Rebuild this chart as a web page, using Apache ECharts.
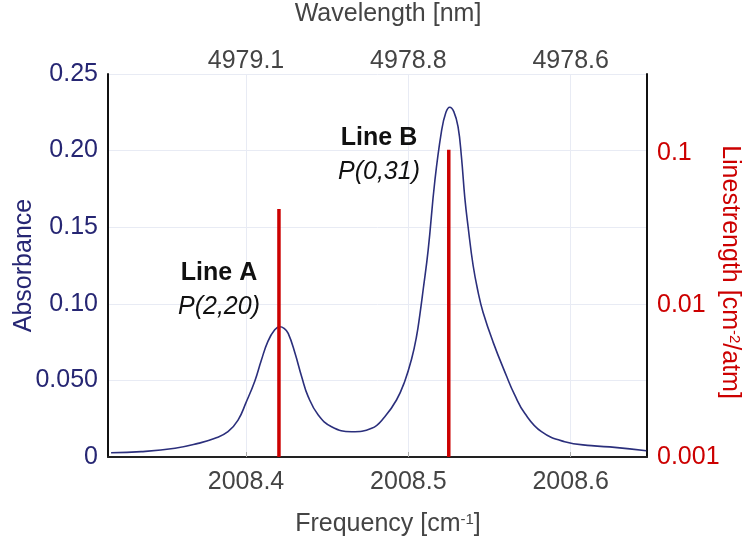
<!DOCTYPE html>
<html><head><meta charset="utf-8">
<script src="https://cdn.jsdelivr.net/npm/echarts@6/dist/echarts.min.js"></script>
<style>html,body{margin:0;padding:0;background:#fff}#c{width:743px;height:544px}</style>
</head><body><div id="c"></div>
<script>
// Absorbance spectrum (frequency cm^-1, absorbance)
const freq = [2008.3169,2008.3354,2008.3563,2008.3705,2008.3809,2008.3889,2008.3951,2008.4000,2008.4054,2008.4094,2008.4135,2008.4177,2008.4209,2008.4234,2008.4260,2008.4302,2008.4343,2008.4383,2008.4445,2008.4527,2008.4650,2008.4774,2008.4855,2008.4927,2008.4978,2008.5020,2008.5050,2008.5071,2008.5091,2008.5122,2008.5163,2008.5204,2008.5231,2008.5255,2008.5280,2008.5306,2008.5327,2008.5348,2008.5368,2008.5399,2008.5430,2008.5460,2008.5522,2008.5604,2008.5655,2008.5717,2008.5820,2008.5963,2008.6127,2008.6271,2008.6466];
const absorbance = [0.0028,0.0035,0.0057,0.0089,0.0122,0.0165,0.0241,0.0355,0.0495,0.0630,0.0755,0.0830,0.0850,0.0840,0.0807,0.0677,0.0524,0.0394,0.0274,0.0198,0.0165,0.0187,0.0263,0.0372,0.0495,0.0640,0.0785,0.0930,0.1090,0.1350,0.1800,0.2125,0.2248,0.2283,0.2254,0.2156,0.1960,0.1690,0.1503,0.1250,0.1075,0.0945,0.0750,0.0530,0.0405,0.0285,0.0165,0.0100,0.0074,0.0063,0.0041];
// Line positions and strengths
const lineNames = ['Line A','Line B'];
const lineAssign = ['P(2,20)','P(0,31)'];
const lineFreq = [2008.4203, 2008.5249];
const lineStrength = [0.0428, 0.105];
const strengthBase = 0.001;
const absTickLabels = ['0','0.050','0.10','0.15','0.20','0.25'];

const FONT = "'Liberation Sans', Arial, sans-serif";
const FS = 25;
const chart = echarts.init(document.getElementById('c'), null, {renderer:'canvas'});
const xMin = 2008.315, xMax = 2008.647;

const stickSeries = lineFreq.map((f,i)=>({
  type:'line', xAxisIndex:0, yAxisIndex:1, symbol:'none', z:5,
  lineStyle:{color:'#cc0000', width:3.5},
  data:[[f, strengthBase],[f, lineStrength[i]]],
  silent:true, animation:false
}));

const richText = {
  b:{fontSize:FS, fontWeight:'bold', fill:'#111', fontFamily:FONT, lineHeight:34, align:'center'},
  i:{fontSize:FS, fontStyle:'italic', fill:'#111', fontFamily:FONT, lineHeight:34, align:'center'}
};

chart.setOption({
  animation:false,
  textStyle:{fontFamily:FONT},
  grid:{left:108, right:96, top:74, bottom:87, containLabel:false, outerBoundsMode:'none'},
  xAxis:[{
    type:'value', min:xMin, max:xMax, splitNumber:3, position:'bottom',
    name:'Frequency [cm{sup|-1}]', nameLocation:'middle', nameGap:55, nameMoveOverlap:false,
    nameTextStyle:{color:'#444', fontSize:FS, fontFamily:FONT, padding:[0,0,0,21],
      rich:{sup:{fontSize:15, color:'#444', verticalAlign:'top', padding:[0,0,10,0]}}},
    axisLine:{show:true, lineStyle:{color:'#222', width:2}},
    axisTick:{show:true, inside:true, length:5, lineStyle:{color:'#aaa'}},
    axisLabel:{color:'#444', fontSize:FS, margin:13, showMinLabel:false, showMaxLabel:false,
      formatter:v=>v.toFixed(1)},
    splitLine:{show:true, lineStyle:{color:'#e8ebf4', width:1}}
  },{
    type:'value', min:xMin, max:xMax, splitNumber:3, position:'top',
    name:'Wavelength [nm]', nameLocation:'middle', nameGap:47, nameMoveOverlap:false,
    nameTextStyle:{color:'#444', fontSize:FS, fontFamily:FONT, padding:[0,0,0,21]},
    axisLine:{show:false}, axisTick:{show:false},
    axisLabel:{color:'#444', fontSize:FS, margin:0, showMinLabel:false, showMaxLabel:false,
      formatter:v=>(1e7/v).toFixed(1)},
    splitLine:{show:false}
  }],
  yAxis:[{
    type:'value', min:0, max:0.25, interval:0.05, position:'left',
    name:'Absorbance', nameLocation:'middle', nameGap:71, nameRotate:90, nameMoveOverlap:false,
    nameTextStyle:{color:'#262673', fontSize:FS, fontFamily:FONT},
    axisLine:{show:true, lineStyle:{color:'#111', width:2}},
    axisTick:{show:false},
    axisLabel:{color:'#262673', fontSize:FS, margin:10, formatter:(v,i)=>absTickLabels[i]},
    splitLine:{show:true, lineStyle:{color:'#e8ebf4', width:1}}
  },{
    type:'log', logBase:10, min:0.001, max:0.331, position:'right',
    name:'Linestrength [cm{sup|-2}/atm]', nameLocation:'middle', nameGap:70, nameRotate:-90, nameMoveOverlap:false,
    nameTextStyle:{color:'#cc0000', fontSize:FS, fontFamily:FONT, padding:[0,0,0,13],
      rich:{sup:{fontSize:15, color:'#cc0000', verticalAlign:'top', padding:[0,0,10,0]}}},
    axisLine:{show:true, lineStyle:{color:'#111', width:2}},
    axisTick:{show:false},
    axisLabel:{color:'#cc0000', fontSize:FS, margin:10, showMaxLabel:false,
      formatter:v=>String(Number(v.toPrecision(3)))},
    splitLine:{show:false}
  }],
  series:[{
    type:'line', xAxisIndex:0, yAxisIndex:0, symbol:'none', smooth:0.45, z:3,
    lineStyle:{color:'#2b2f7c', width:1.6},
    data:freq.map((f,i)=>[f, absorbance[i]]), silent:true
  }].concat(stickSeries),
  graphic:[
    {type:'text', x:219, y:290, z:10, style:{text:'{b|'+lineNames[0]+'}\n{i|'+lineAssign[0]+'}', align:'center', verticalAlign:'middle', rich:richText}},
    {type:'text', x:379, y:155, z:10, style:{text:'{b|'+lineNames[1]+'}\n{i|'+lineAssign[1]+'}', align:'center', verticalAlign:'middle', rich:richText}}
  ]
});
</script></body></html>
